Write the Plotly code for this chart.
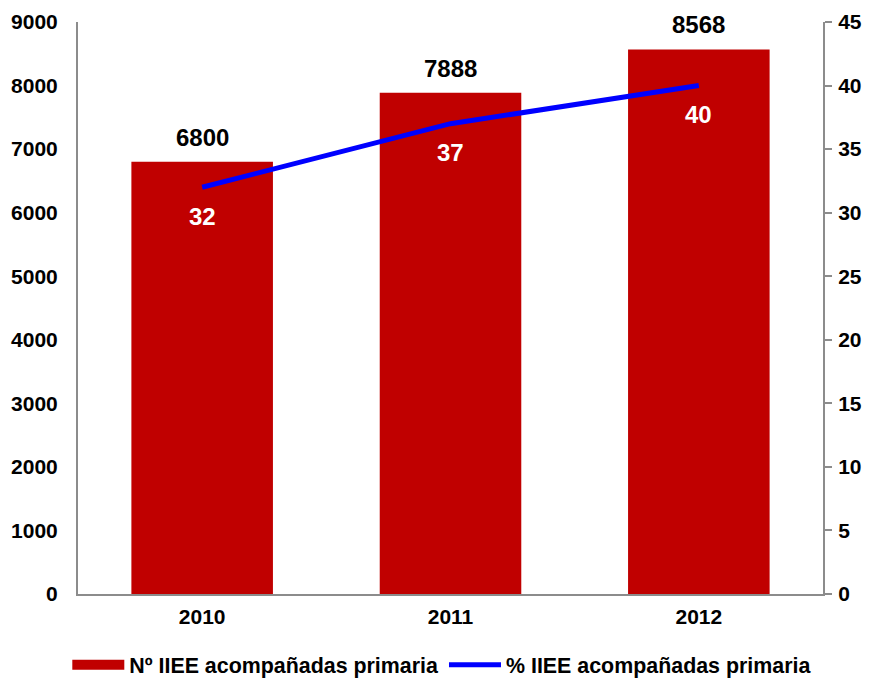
import plotly.graph_objects as go

years = ["2010", "2011", "2012"]
n_acompanadas = [6800, 7888, 8568]
pct_acompanadas = [32, 37, 40]

bar_name = "Nº IIEE acompañadas primaria"
line_name = "% IIEE acompañadas primaria"

FONT = "Liberation Sans, Arial, sans-serif"
AXIS_GREY = "#8c8c8c"
BAR_RED = "#C00000"
LINE_BLUE = "#0000FF"

fig = go.Figure()
fig.add_trace(go.Bar(
    x=years, y=n_acompanadas, name=bar_name,
    marker=dict(color=BAR_RED, line=dict(width=0)),
    width=0.57, yaxis="y", showlegend=False,
))
# wide rectangular legend key for the bar series
fig.add_trace(go.Scatter(
    x=[None], y=[None], name=bar_name, mode="lines",
    line=dict(color=BAR_RED, width=12), yaxis="y",
))
fig.add_trace(go.Scatter(
    x=years, y=pct_acompanadas, name=line_name,
    mode="lines", line=dict(color=LINE_BLUE, width=5),
    yaxis="y2",
))

# value labels; on a category axis each year sits at its serial index
annotations = []
for i, v in enumerate(n_acompanadas):
    annotations.append(dict(
        x=i, y=v, xref="x", yref="y", text=f"<b>{v}</b>",
        showarrow=False, yanchor="bottom", yshift=9,
        font=dict(family=FONT, size=24, color="#000000"),
    ))
for i, v in enumerate(pct_acompanadas):
    annotations.append(dict(
        x=i, y=v, xref="x", yref="y2", text=f"<b>{v}</b>",
        showarrow=False, yanchor="middle", yshift=-29,
        font=dict(family=FONT, size=24, color="#FFFFFF"),
    ))

fig.update_layout(
    width=870, height=682,
    margin=dict(l=78, r=47, t=22, b=88, autoexpand=False),
    paper_bgcolor="white", plot_bgcolor="white",
    font=dict(family=FONT, color="#000000"),
    showlegend=True,
    legend=dict(
        orientation="h", x=0.489, xanchor="center",
        yref="container", y=0.025, yanchor="middle",
        font=dict(family=FONT, size=21.4, weight="bold"),
        traceorder="normal", itemwidth=52,
    ),
    xaxis=dict(
        type="category", range=[-0.5, 2.5],
        showline=True, linecolor=AXIS_GREY, linewidth=2,
        ticks="", showgrid=False,
        tickfont=dict(family=FONT, size=21, weight="bold"),
        ticklabelstandoff=3,
    ),
    yaxis=dict(
        range=[0, 9000], dtick=1000, showgrid=False, zeroline=False,
        showline=True, linecolor=AXIS_GREY, linewidth=2, ticks="",
        tickfont=dict(family=FONT, size=21, weight="bold"),
        ticklabelstandoff=14,
    ),
    yaxis2=dict(
        range=[0, 45], dtick=5, overlaying="y", side="right",
        showgrid=False, zeroline=False,
        showline=True, linecolor=AXIS_GREY, linewidth=2,
        ticks="outside", ticklen=7, tickcolor=AXIS_GREY, tickwidth=2,
        tickfont=dict(family=FONT, size=21, weight="bold"),
        ticklabelstandoff=2,
    ),
    annotations=annotations,
)

fig.write_html("out.html")
